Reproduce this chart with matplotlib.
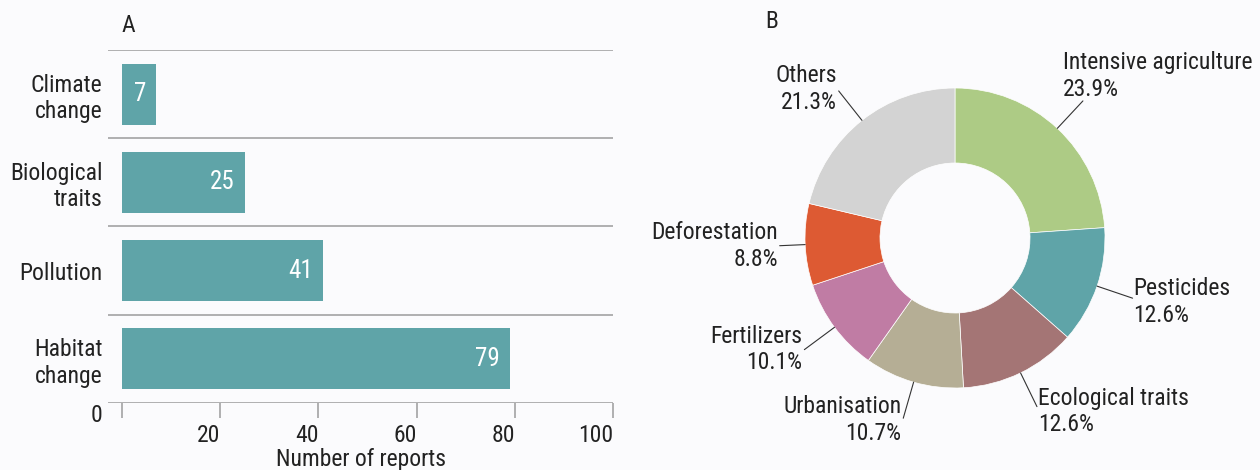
import numpy as np
import matplotlib.pyplot as plt
from matplotlib import font_manager

# pick a narrow face if one exists, Roboto otherwise
names = {f.name for f in font_manager.fontManager.ttflist}
FONT = 'DejaVu Sans'
for fam in ['Roboto Condensed', 'Liberation Sans Narrow', 'Roboto']:
    if fam in names:
        FONT = fam
        break
plt.rcParams['font.family'] = [FONT, 'DejaVu Sans']

# DATA
drivers = ['Climate\nchange', 'Biological\ntraits', 'Pollution', 'Habitat\nchange']
reports = [7, 25, 41, 79]
xticks = [0, 20, 40, 60, 80, 100]

causes = ['Intensive agriculture', 'Pesticides', 'Ecological traits', 'Urbanisation',
          'Fertilizers', 'Deforestation', 'Others']
shares = [23.9, 12.6, 12.6, 10.7, 10.1, 8.8, 21.3]
colors = ['#adcb85', '#5fa4a8', '#a47575', '#b5ae95', '#c07ca4', '#dd5a33', '#d3d3d3']

BG = '#fbfbfd'
TEAL = '#5fa4a8'
GRID = '#a3a3a3'
TXT = '#222222'
FS = 17

fig = plt.figure(figsize=(12.6, 4.7), dpi=100, facecolor=BG)
W, H = 1260, 470

# PANEL A
ax = fig.add_axes([108/W, 67/H, 505/W, 353/H], facecolor=BG)
y = np.arange(len(drivers))
ax.barh(y, reports, height=0.69, color=TEAL, zorder=2)
ax.set_xlim(-2.85, 100)
ax.set_ylim(3.5, -0.5)
for b in np.arange(-0.5, 4.0, 1.0):
    ax.axhline(b, color=GRID, lw=1.2, zorder=1)
for s in ax.spines.values():
    s.set_visible(False)
ax.set_yticks(y, drivers, fontsize=FS, color=TXT)
ax.tick_params(axis='y', length=0, pad=4)
ax.set_xticks(xticks, [''] + [str(t) for t in xticks[1:]], fontsize=FS, color=TXT)
ax.tick_params(axis='x', length=11, width=1.2, color=GRID, pad=4)
for lbl in ax.get_xticklabels():
    lbl.set_horizontalalignment('right')
ax.text(-0.022, -0.034, str(xticks[0]), transform=ax.transAxes, ha='center', va='center',
        fontsize=FS, color=TXT)
ax.set_xlabel('Number of reports', fontsize=FS, color=TXT, labelpad=1)
for i, v in enumerate(reports):
    ax.text(v - 2, i, str(v), ha='right', va='center', color='white', fontsize=FS + 1, zorder=3)
fig.text(122/W, 1 - 25/H, 'A', ha='left', va='center', fontsize=FS, color=TXT)

# PANEL B
ax2 = fig.add_axes([(955 - 220)/W, (H - 238 - 220)/H, 440/W, 440/H])
wedges, _ = ax2.pie(shares, colors=colors, startangle=90, counterclock=False, radius=1,
                    wedgeprops=dict(width=0.5, edgecolor='white', linewidth=0.5))
ax2.set_xlim(-220/150, 220/150)
ax2.set_ylim(-220/150, 220/150)
ax2.set_aspect('equal')
ax2.axis('off')

# leader length and text nudges (px) per label
for w, name, share in zip(wedges, causes, shares):
    th = np.deg2rad((w.theta1 + w.theta2) / 2)
    c, s = np.cos(th), np.sin(th)
    ha = 'left' if c > 0 else 'right'
    off = (1, 0) if c > 0 else (-2, 0)
    r = 1.25
    va = 'center'
    if name == 'Intensive agriculture':
        off, va = (-20, 0), 'bottom'
    elif name == 'Pesticides':
        off = (off[0], -4)
    elif name == 'Urbanisation':
        off = (off[0], -2)
    elif name == 'Ecological traits':
        off = (off[0], -5)
    elif name == 'Others':
        off = (off[0], 2)
    elif name == 'Deforestation':
        r = 1.17
    ax2.annotate('', xy=(c, s), xytext=(r*c, r*s), annotation_clip=False,
                 arrowprops=dict(arrowstyle='-', color='#333333', lw=0.8, shrinkA=0, shrinkB=0))
    ax2.text(r*c + off[0]/150, r*s + off[1]/150, f'{name}\n{share:.1f}%',
             ha=ha, va=va, fontsize=FS, color=TXT)

fig.text(765/W, 1 - 22/H, 'B', ha='left', va='center', fontsize=FS, color=TXT)

fig.savefig('out.png', dpi=100, facecolor=BG)
